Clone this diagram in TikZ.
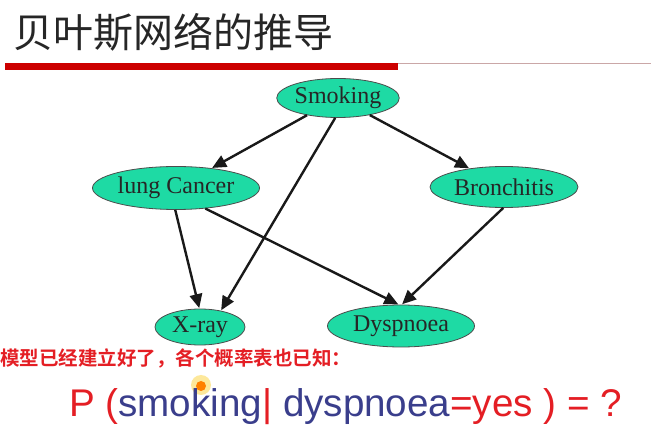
\documentclass[tikz,border=0pt]{standalone}
\usepackage{fontspec}
\setmainfont{Liberation Serif}
\newfontfamily\cjk{Noto Sans CJK SC}
\newfontfamily\cjkb{Noto Sans CJK SC Bold}
\newfontfamily\arialf{Liberation Sans}
\usetikzlibrary{shapes.geometric,arrows.meta}
\definecolor{nodefill}{RGB}{30,218,164}
\definecolor{titlered}{RGB}{204,0,0}
\definecolor{txtred}{RGB}{228,30,36}
\definecolor{pblue}{RGB}{58,62,140}
\tikzset{
  bnode/.style={ellipse, draw=black!70, line width=0.8pt, fill=nodefill, inner sep=0pt,
    text=black!85, font=\fontsize{24}{26}\selectfont},
  edge/.style={line width=2.4pt, draw=black!90, -{Triangle[length=14pt,width=12.5pt]}, shorten >=0.5pt}
}
\begin{document}
\begin{tikzpicture}[x=1pt,y=-1pt]
\useasboundingbox (0,0) rectangle (651,438);
\fill[white] (0,0) rectangle (651,438);
% title
\node[anchor=base west, inner sep=0pt, font=\cjk\fontsize{40}{44}\selectfont, text=black!85] (title) at (13,48) {贝叶斯网络的推导};
\fill[titlered] (5,63) rectangle (398,70);
\draw[line width=0.8pt, draw=red!25!gray!55] (398,63) -- (651,63);
% nodes
\node[bnode, minimum width=120pt, minimum height=39pt] (s) at (338,98) {Smoking};
\node[bnode, minimum width=167pt, minimum height=43pt] (c) at (176,188) {lung Cancer};
\node[bnode, minimum width=148pt, minimum height=41pt] (b) at (504,187) {Bronchitis};
\node[bnode, minimum width=90pt, minimum height=36pt] (x) at (200,327) {X-ray};
\node[bnode, minimum width=147pt, minimum height=42pt] (d) at (401,326) {Dyspnoea};
% edges
\draw[edge] (s) -- (c);
\draw[edge] (s.262) -- (x.38);
\draw[edge] (s) -- (b);
\draw[edge] (c.268) -- (x.92);
\draw[edge] (c.-35) -- (d.96);
\draw[edge] (b.268) -- (d.88);
% red text
\node[anchor=base west, inner sep=0pt, font=\cjkb\fontsize{19.5}{21}\selectfont, text=txtred] (note) at (0,366) {模型已经建立好了，各个概率表也已知：};
% highlight
\fill[yellow!60!orange, opacity=0.4] (201,385) circle (10pt);
\fill[orange] (201,386) circle (5pt);
% formula
\node[anchor=base west, inner sep=0pt, font=\arialf\fontsize{38.6}{42}\selectfont, text=txtred] (p) at (69,417)
 {P (\textcolor{pblue}{smoking}| \textcolor{pblue}{dyspnoea}=yes ) = ?};
\end{tikzpicture}
\end{document}
